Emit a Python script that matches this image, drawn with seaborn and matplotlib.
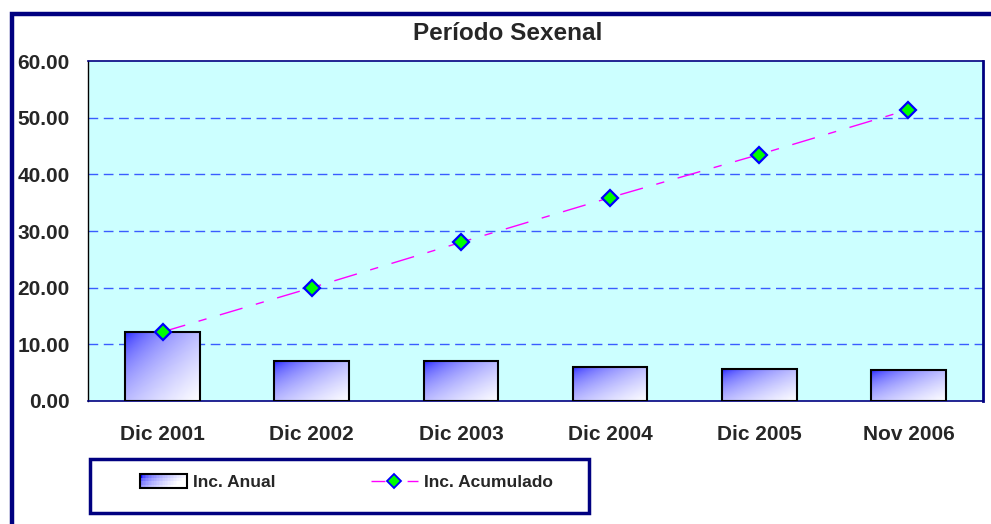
import numpy as np
import pandas as pd
import matplotlib
matplotlib.use('Agg')
import matplotlib.pyplot as plt
import seaborn as sns
from matplotlib.patches import Rectangle
from matplotlib.legend_handler import HandlerBase
from matplotlib.lines import Line2D

# datos
periodos = ['Dic 2001', 'Dic 2002', 'Dic 2003', 'Dic 2004', 'Dic 2005', 'Nov 2006']
inc_anual = [12.2, 7.0, 7.0, 6.0, 5.6, 5.4]
inc_acumulado = [12.2, 20.0, 28.0, 35.9, 43.5, 51.4]
y_ticks = [0, 10, 20, 30, 40, 50, 60]

df = pd.DataFrame({'Periodo': periodos, 'Anual': inc_anual, 'Acumulado': inc_acumulado})

sns.set_style('white')
plt.rcParams['font.family'] = ['Liberation Sans', 'DejaVu Sans']
plt.rcParams['font.weight'] = 'bold'

W, H = 991, 524
fig = plt.figure(figsize=(W / 100, H / 100), dpi=100)
fig.patch.set_facecolor('white')

# marco exterior
fig.patches.append(Rectangle((12 / W, -0.2), 1.5, 1 - 14 / H + 0.2, transform=fig.transFigure,
                             fill=False, edgecolor='#000080', lw=3.2, zorder=0))

ax = fig.add_axes([88 / W, 1 - 401 / H, (983 - 88) / W, (401 - 61) / H])
ax.set_facecolor('#ccffff')

sns.barplot(data=df, x='Periodo', y='Anual', ax=ax, width=0.5, color='white',
            edgecolor='black', linewidth=1.5, zorder=3)

# degradado azul -> blanco en cada barra
n = 80
u = np.linspace(0, 1, n)[None, :]
v = np.linspace(0, 1, n)[:, None]
t = np.clip((u + v) / 2, 0, 1) ** 0.45
grad = np.ones((n, n, 3))
grad[..., 0] = t
grad[..., 1] = t
for p in ax.patches:
    x0, y0 = p.get_x(), p.get_y()
    w, h = p.get_width(), p.get_height()
    ax.imshow(grad, extent=[x0, x0 + w, y0, y0 + h], origin='upper', aspect='auto',
              zorder=2.5, interpolation='bilinear')
    p.set_facecolor('none')

sns.lineplot(data=df, x='Periodo', y='Acumulado', ax=ax, color='#ff00ff', lw=1,
             marker='D', markersize=8.5, markerfacecolor='#00ff00', markeredgecolor='#0000ff',
             markeredgewidth=1.6, zorder=4, sort=False)
ax.lines[-1].set_dashes((17, 10, 6, 10))

ax.set_xlim(-0.5, len(periodos) - 0.5)
ax.set_ylim(0, 60)
ax.set_yticks(y_ticks)
ax.set_yticklabels([f'{v:.2f}' for v in y_ticks])
ax.set_xticks(range(len(periodos)))
ax.set_xticklabels(periodos)
ax.set_xticks(np.arange(-0.5, len(periodos), 1), minor=True)
ax.set_xlabel('')
ax.set_ylabel('')

for yv in y_ticks[1:-1]:
    ax.axhline(yv, color='#3a5cff', lw=1, dashes=(7, 4), zorder=1)

ax.tick_params(axis='y', which='major', direction='inout', length=14, width=1, color='black',
               labelsize=15, pad=6)
ax.tick_params(axis='x', which='major', length=0, labelsize=15, pad=17)
ax.tick_params(axis='x', which='minor', direction='inout', length=14, width=1, color='black')
for lab in ax.get_xticklabels() + ax.get_yticklabels():
    lab.set_fontweight('bold')

for s in ['top', 'bottom']:
    ax.spines[s].set_color('#000080')
    ax.spines[s].set_linewidth(1.2)
ax.spines['right'].set_color('#000080')
ax.spines['right'].set_linewidth(2)
ax.spines['left'].set_color('black')
ax.spines['left'].set_linewidth(1)

fig.text(508 / W, 1 - 33 / H, 'Período Sexenal', ha='center', va='center',
         fontsize=17.5, fontweight='bold')


class GradHandler(HandlerBase):
    def create_artists(self, legend, orig, xd, yd, width, height, fontsize, trans):
        arts = []
        nx, ny = 30, 4
        for i in range(nx):
            for j in range(ny):
                s = np.clip((i / nx + (ny - 1 - j) / ny * 0.4) / 1.0, 0, 1) ** 0.45
                r = Rectangle((-xd + width * i / nx, -yd + height * j / ny), width / nx + 0.3,
                              height / ny + 0.3, facecolor=(s, s, 1), edgecolor='none',
                              transform=trans)
                arts.append(r)
        arts.append(Rectangle((-xd, -yd), width, height, fill=False, edgecolor='black',
                              lw=1.5, transform=trans))
        return arts


# recuadro de la leyenda
fig.patches.append(Rectangle((90 / W, 1 - 513 / H), (589 - 90) / W, 54 / H,
                             transform=fig.transFigure, fill=False, edgecolor='#000080',
                             lw=2.5, zorder=5))

h_bar = Rectangle((0, 0), 1, 1)
h_line = Line2D([], [], color='#ff00ff', lw=1, marker='D', markersize=7,
                markerfacecolor='#00ff00', markeredgecolor='#0000ff', markeredgewidth=1.3)
h_line.set_dashes((10, 6, 4, 6))
leg = fig.legend([h_bar, h_line], ['Inc. Anual', 'Inc. Acumulado'],
                 handler_map={Rectangle: GradHandler()},
                 loc='center', bbox_to_anchor=(346.5 / W, 1 - 482 / H),
                 ncol=2, frameon=False, handlelength=2.7, handleheight=0.9,
                 handletextpad=0.36, columnspacing=5.5, borderpad=0,
                 prop={'weight': 'bold', 'size': 12.5})

fig.savefig('out.png', dpi=100)
